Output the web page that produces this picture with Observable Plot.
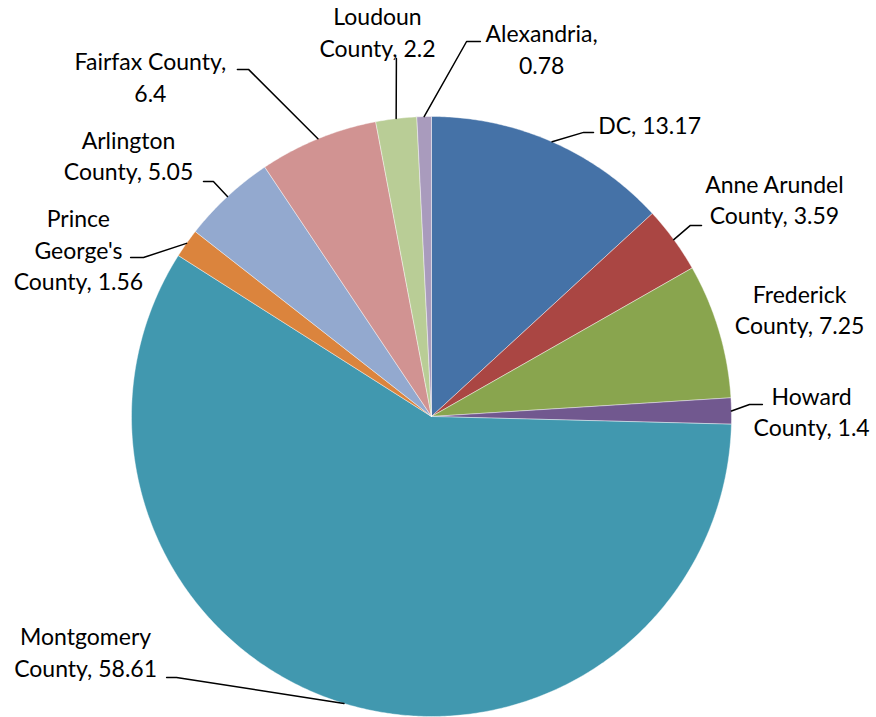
<!DOCTYPE html>
<html>
<head>
<meta charset="utf-8">
<script src="https://cdn.jsdelivr.net/npm/d3@7"></script>
<script src="https://cdn.jsdelivr.net/npm/@observablehq/plot@0.6"></script>
<style>
  html, body { margin: 0; padding: 0; background: #fff; }
  #chart { width: 876px; height: 717px; }
</style>
</head>
<body>
<div id="chart"></div>
<script>
// ---- data ----
const names = ["DC", "Anne Arundel County", "Frederick County", "Howard County", "Montgomery County",
               "Prince George's County", "Arlington County", "Fairfax County", "Loudoun County", "Alexandria"];
const values = [13.17, 3.59, 7.25, 1.4, 58.61, 1.56, 5.05, 6.4, 2.2, 0.78];
const labelTexts = ["DC, 13.17", "Anne Arundel\nCounty, 3.59", "Frederick\nCounty, 7.25", "Howard\nCounty, 1.4",
                    "Montgomery\nCounty, 58.61", "Prince\nGeorge's\nCounty, 1.56", "Arlington\nCounty, 5.05",
                    "Fairfax County,\n6.4", "Loudoun\nCounty, 2.2", "Alexandria,\n0.78"];
const colors = ["#4572A7", "#AA4643", "#89A54E", "#71588F", "#4198AF", "#DB843D", "#93A9CF", "#D19392", "#B9CD96", "#A99BBD"];

// ---- layout (in pie-radius units, centre = 0,0) ----
const labelPos = [[0.727, 0.970], [1.143, 0.720], [1.227, 0.353], [1.267, 0.013], [-1.153, -0.788],
                  [-1.177, 0.553], [-1.010, 0.867], [-0.937, 1.128], [-0.180, 1.278], [0.367, 1.222]];
// leader: [elbow, end] or null
const leaders = [[[0.507, 0.947], [0.540, 0.947]], [[0.863, 0.637], [0.900, 0.637]], null,
                 [[1.060, 0.040], [1.103, 0.040]], [[-0.850, -0.870], [-0.883, -0.870]],
                 [[-0.960, 0.530], [-1.003, 0.530]], [[-0.727, 0.783], [-0.760, 0.783]],
                 [[-0.610, 1.157], [-0.647, 1.157]], [[-0.117, 1.193], [-0.117, 1.193]],
                 [[0.117, 1.250], [0.163, 1.250]]];

// ---- build slices ----
const pie = d3.pie().sort(null).value(d => d)(values);
const slicePts = [];
const leaderPts = [];
const labels = [];
names.forEach((n, i) => {
  const a0 = pie[i].startAngle, a1 = pie[i].endAngle;
  const steps = Math.max(2, Math.ceil((a1 - a0) / (Math.PI / 360)));
  slicePts.push({name: n, x: 0, y: 0});
  for (let k = 0; k <= steps; k++) {
    const a = a0 + (a1 - a0) * k / steps;
    slicePts.push({name: n, x: Math.sin(a), y: Math.cos(a)});
  }
  slicePts.push({name: n, x: 0, y: 0});
  const mid = (a0 + a1) / 2;
  if (leaders[i]) {
    leaderPts.push({name: n, x: Math.sin(mid), y: Math.cos(mid)});
    leaderPts.push({name: n, x: leaders[i][0][0], y: leaders[i][0][1]});
    leaderPts.push({name: n, x: leaders[i][1][0], y: leaders[i][1][1]});
  }
  labels.push({name: n, text: labelTexts[i], x: labelPos[i][0], y: labelPos[i][1]});
});

const R = 300, W = 876, H = 717, cx = 431, cy = 416;
const chart = Plot.plot({
  width: W, height: H,
  marginTop: 0, marginRight: 0, marginBottom: 0, marginLeft: 0,
  x: {domain: [-cx / R, (W - cx) / R], axis: null},
  y: {domain: [-(H - cy) / R, cy / R], axis: null},
  color: {domain: names, range: colors},
  style: {fontFamily: "Lato, 'Open Sans', sans-serif", background: "#fff"},
  marks: [
    Plot.line(slicePts, {x: "x", y: "y", z: "name", fill: "name", stroke: "#fff", strokeWidth: 0.6, strokeOpacity: 0.7}),
    Plot.line(leaderPts, {x: "x", y: "y", z: "name", stroke: "#000", strokeWidth: 1.5}),
    Plot.text(labels, {x: "x", y: "y", text: "text", fontSize: 23, lineHeight: 1.37, dy: -2, fill: "#000"})
  ]
});
document.getElementById("chart").appendChild(chart);
</script>
</body>
</html>
